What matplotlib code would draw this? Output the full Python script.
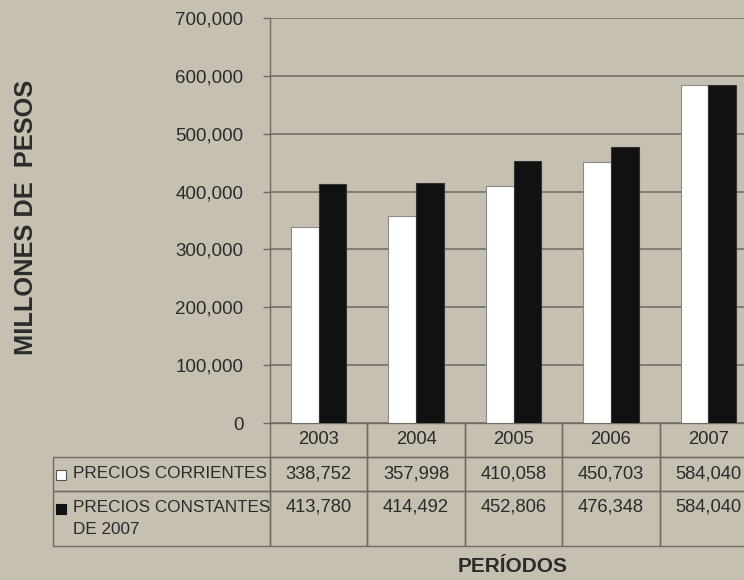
import matplotlib.pyplot as plt
import matplotlib.ticker as mtick

plt.rcParams.update({"font.family": ["Liberation Sans", "DejaVu Sans"]})

# -----------------------------
# Data
# -----------------------------
years = ["2003", "2004", "2005", "2006", "2007"]
precios_corrientes = [338752, 357998, 410058, 450703, 584040]
precios_constantes = [413780, 414492, 452806, 476348, 584040]
label_corrientes = "PRECIOS CORRIENTES"
label_constantes = "PRECIOS CONSTANTES\nDE 2007"
y_ticks = [0, 100000, 200000, 300000, 400000, 500000, 600000, 700000]

BG = "#c6c0b1"
LINE = "#6f6b62"
TXT = "#2b2b2b"

fig = plt.figure(figsize=(7.44, 5.80), dpi=100, facecolor=BG)
ax = fig.add_axes([270 / 744, 157 / 580, 487 / 744, 405 / 580])
ax.set_facecolor("none")

x = list(range(len(years)))
bw = 0.285
ax.bar([i - bw / 2 for i in x], precios_corrientes, width=bw,
       color="white", edgecolor="#8a8a8a", linewidth=0.8, zorder=3)
ax.bar([i + bw / 2 for i in x], precios_constantes, width=bw,
       color="#111111", edgecolor="#333333", linewidth=0.8, zorder=3)

ax.set_xlim(-0.5, len(years) - 0.5)
ax.set_ylim(0, 700000)
ax.set_yticks(y_ticks)
ax.yaxis.set_major_formatter(mtick.FuncFormatter(lambda v, p: f"{v:,.0f}"))
ax.set_xticks([])
ax.grid(axis="y", color=LINE, linewidth=1.1, zorder=1)
ax.tick_params(axis="y", length=5, width=1.0, color=LINE, pad=14,
               labelsize=13.5, labelcolor=TXT)
for s in ["top", "right", "bottom"]:
    ax.spines[s].set_visible(False)
ax.spines["left"].set_color(LINE)
ax.spines["left"].set_linewidth(1.0)

# ---- Data table under the bars
rows = [[""] + years,
        [label_corrientes] + [f"{v:,}" for v in precios_corrientes],
        [label_constantes] + [f"{v:,}\n" for v in precios_constantes]]

table = ax.table(cellText=rows, cellLoc="center",
                 bbox=[-217 / 487, -123 / 405, 1 + 217 / 487, 123 / 405])
table.auto_set_font_size(False)
table.set_fontsize(13.2)

row_h = [34, 34, 55]
col_w = [217] + [97.4] * len(years)
for (r, c), cell in table.get_celld().items():
    cell.set_height(row_h[r])
    cell.set_width(col_w[c])
    cell.set_facecolor("none")
    cell.set_edgecolor(LINE)
    cell.set_linewidth(1.0)
    t = cell.get_text()
    t.set_color(TXT)
    t.set_linespacing(1.45)
    if c == 0:
        t.set_ha("left")
        t.set_fontsize(12.3)
        t.set_linespacing(1.55)
        cell.PAD = 0.092
    if r == 0 and c == 0:
        cell.visible_edges = ""

# legend keys inside the table
ax.plot([-209 / 487], [-52 / 405], marker="s", ms=7, mfc="white", mec="#555555",
        mew=0.8, transform=ax.transAxes, clip_on=False, ls="none")
ax.plot([-209 / 487], [-86 / 405], marker="s", ms=7, mfc="#111111", mec="#111111",
        mew=0.8, transform=ax.transAxes, clip_on=False, ls="none")

fig.text(26 / 744, 1 - 217 / 580, "MILLONES DE  PESOS", rotation=90,
         ha="center", va="center", fontsize=18.3, fontweight="bold", color=TXT)
fig.text(513 / 744, 1 - 566 / 580, "PERÍODOS", ha="center", va="center",
         fontsize=15, fontweight="bold", color=TXT)

plt.savefig("out.png", dpi=100, facecolor=BG)
